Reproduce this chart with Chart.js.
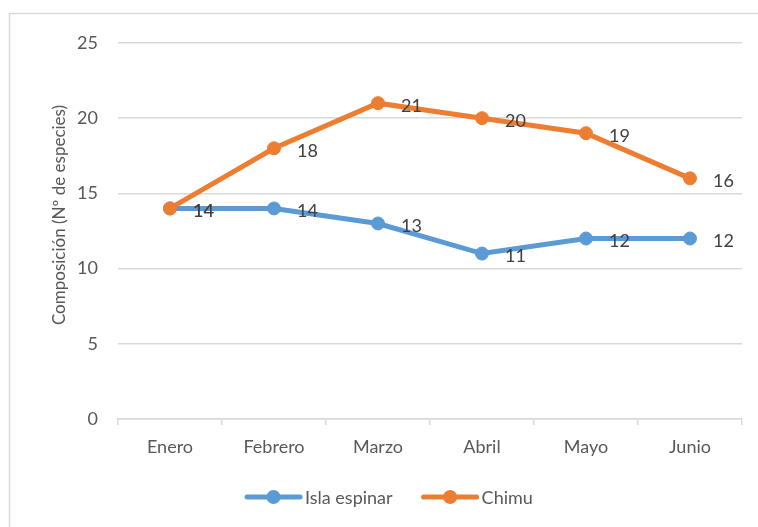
<!DOCTYPE html>
<html>
<head>
<meta charset="utf-8">
<script src="https://cdn.jsdelivr.net/npm/chart.js@4.4.1/dist/chart.umd.min.js"></script>
<style>
  html, body { margin: 0; padding: 0; background: #fff; }
  #wrap { width: 758px; height: 527px; }
</style>
</head>
<body>
<div id="wrap"><canvas id="c" width="758" height="527"></canvas></div>
<script>
// datos
const meses = ['Enero', 'Febrero', 'Marzo', 'Abril', 'Mayo', 'Junio'];
const islaEspinar = [14, 14, 13, 11, 12, 12];
const chimu = [14, 18, 21, 20, 19, 16];
const yTicks = [0, 5, 10, 15, 20, 25];
const tituloY = 'Composición (Nº de especies)';

const AZUL = '#5B9BD5';
const NARANJA = '#ED7D31';
const FUENTE = 'Lato, "Noto Sans", sans-serif';

Chart.defaults.font.family = FUENTE;
Chart.defaults.font.size = 18;
Chart.defaults.color = '#595959';

// marco exterior (solo se ven los bordes izquierdo y superior)
const marco = {
  id: 'marco',
  beforeDraw(chart) {
    const c = chart.ctx;
    c.save();
    c.strokeStyle = '#d9d9d9';
    c.lineWidth = 1.5;
    c.strokeRect(9.5, 13.5, chart.width + 20, chart.height + 20);
    c.restore();
  }
};

// título del eje Y, girado (Excel no lo centra exactamente)
const tituloEje = {
  id: 'tituloEje',
  afterDraw(chart) {
    const c = chart.ctx;
    c.save();
    c.translate(60, 215);
    c.rotate(-Math.PI / 2);
    c.font = '17px ' + FUENTE;
    c.fillStyle = '#595959';
    c.textAlign = 'center';
    c.textBaseline = 'middle';
    c.fillText(tituloY, 0, 0);
    c.restore();
  }
};

// etiquetas de datos a la derecha de cada punto
const etiquetas = {
  id: 'etiquetas',
  afterDatasetsDraw(chart) {
    const c = chart.ctx;
    c.save();
    c.font = '18px ' + FUENTE;
    c.fillStyle = '#404040';
    c.textAlign = 'left';
    c.textBaseline = 'middle';
    chart.data.datasets.forEach((ds, i) => {
      chart.getDatasetMeta(i).data.forEach((pt, j) => {
        c.fillText(String(ds.data[j]), pt.x + 23, pt.y + 3);
      });
    });
    c.restore();
  }
};

// leyenda al estilo Excel: línea con marcador
const leyenda = {
  id: 'leyenda',
  afterDraw(chart) {
    const c = chart.ctx;
    const y = 497, largo = 57, sep = 3, hueco = 29;
    c.save();
    c.font = '18px ' + FUENTE;
    const items = chart.data.datasets.map(ds => ({ ds, w: c.measureText(ds.label).width }));
    let x = 245;
    items.forEach(it => {
      c.strokeStyle = it.ds.borderColor;
      c.lineWidth = 5;
      c.lineCap = 'round';
      c.beginPath();
      c.moveTo(x + 2, y);
      c.lineTo(x + largo - 2, y);
      c.stroke();
      c.fillStyle = it.ds.borderColor;
      c.beginPath();
      c.arc(x + largo / 2, y, 7, 0, Math.PI * 2);
      c.fill();
      c.fillStyle = '#595959';
      c.textAlign = 'left';
      c.textBaseline = 'middle';
      c.fillText(it.ds.label, x + largo + sep, y + 1);
      x += largo + sep + it.w + hueco;
    });
    c.restore();
  }
};

new Chart(document.getElementById('c'), {
  type: 'line',
  data: {
    labels: meses,
    datasets: [
      {
        label: 'Isla espinar',
        data: islaEspinar,
        borderColor: AZUL,
        backgroundColor: AZUL,
        borderWidth: 5,
        pointRadius: 6.5,
        pointBorderWidth: 1,
        pointHoverRadius: 6.5,
        tension: 0,
        order: 1
      },
      {
        label: 'Chimu',
        data: chimu,
        borderColor: NARANJA,
        backgroundColor: NARANJA,
        borderWidth: 5,
        pointRadius: 6.5,
        pointBorderWidth: 1,
        pointHoverRadius: 6.5,
        tension: 0,
        order: 0
      }
    ]
  },
  options: {
    responsive: false,
    animation: false,
    layout: { padding: { left: 49, right: 16, top: 43, bottom: 0 } },
    plugins: {
      legend: { display: false },
      tooltip: { enabled: false }
    },
    scales: {
      x: {
        offset: true,
        grid: {
          offset: true,
          drawOnChartArea: false,
          drawTicks: true,
          tickLength: 6,
          color: '#d9d9d9',
          lineWidth: 1.5
        },
        border: { display: true, color: '#d9d9d9', width: 1.5 },
        ticks: { padding: 11, color: '#595959', font: { size: 18 } },
        afterFit(scale) { scale.height = 108; }
      },
      y: {
        min: 0,
        max: 25,
        afterBuildTicks(scale) { scale.ticks = yTicks.map(v => ({ value: v })); },
        grid: { color: '#d9d9d9', lineWidth: 1.5, drawTicks: false },
        border: { display: false },
        ticks: { padding: 20, color: '#595959', font: { size: 18 } },
        afterFit(scale) { scale.width = 69; }
      }
    }
  },
  plugins: [marco, tituloEje, etiquetas, leyenda]
});
</script>
</body>
</html>
